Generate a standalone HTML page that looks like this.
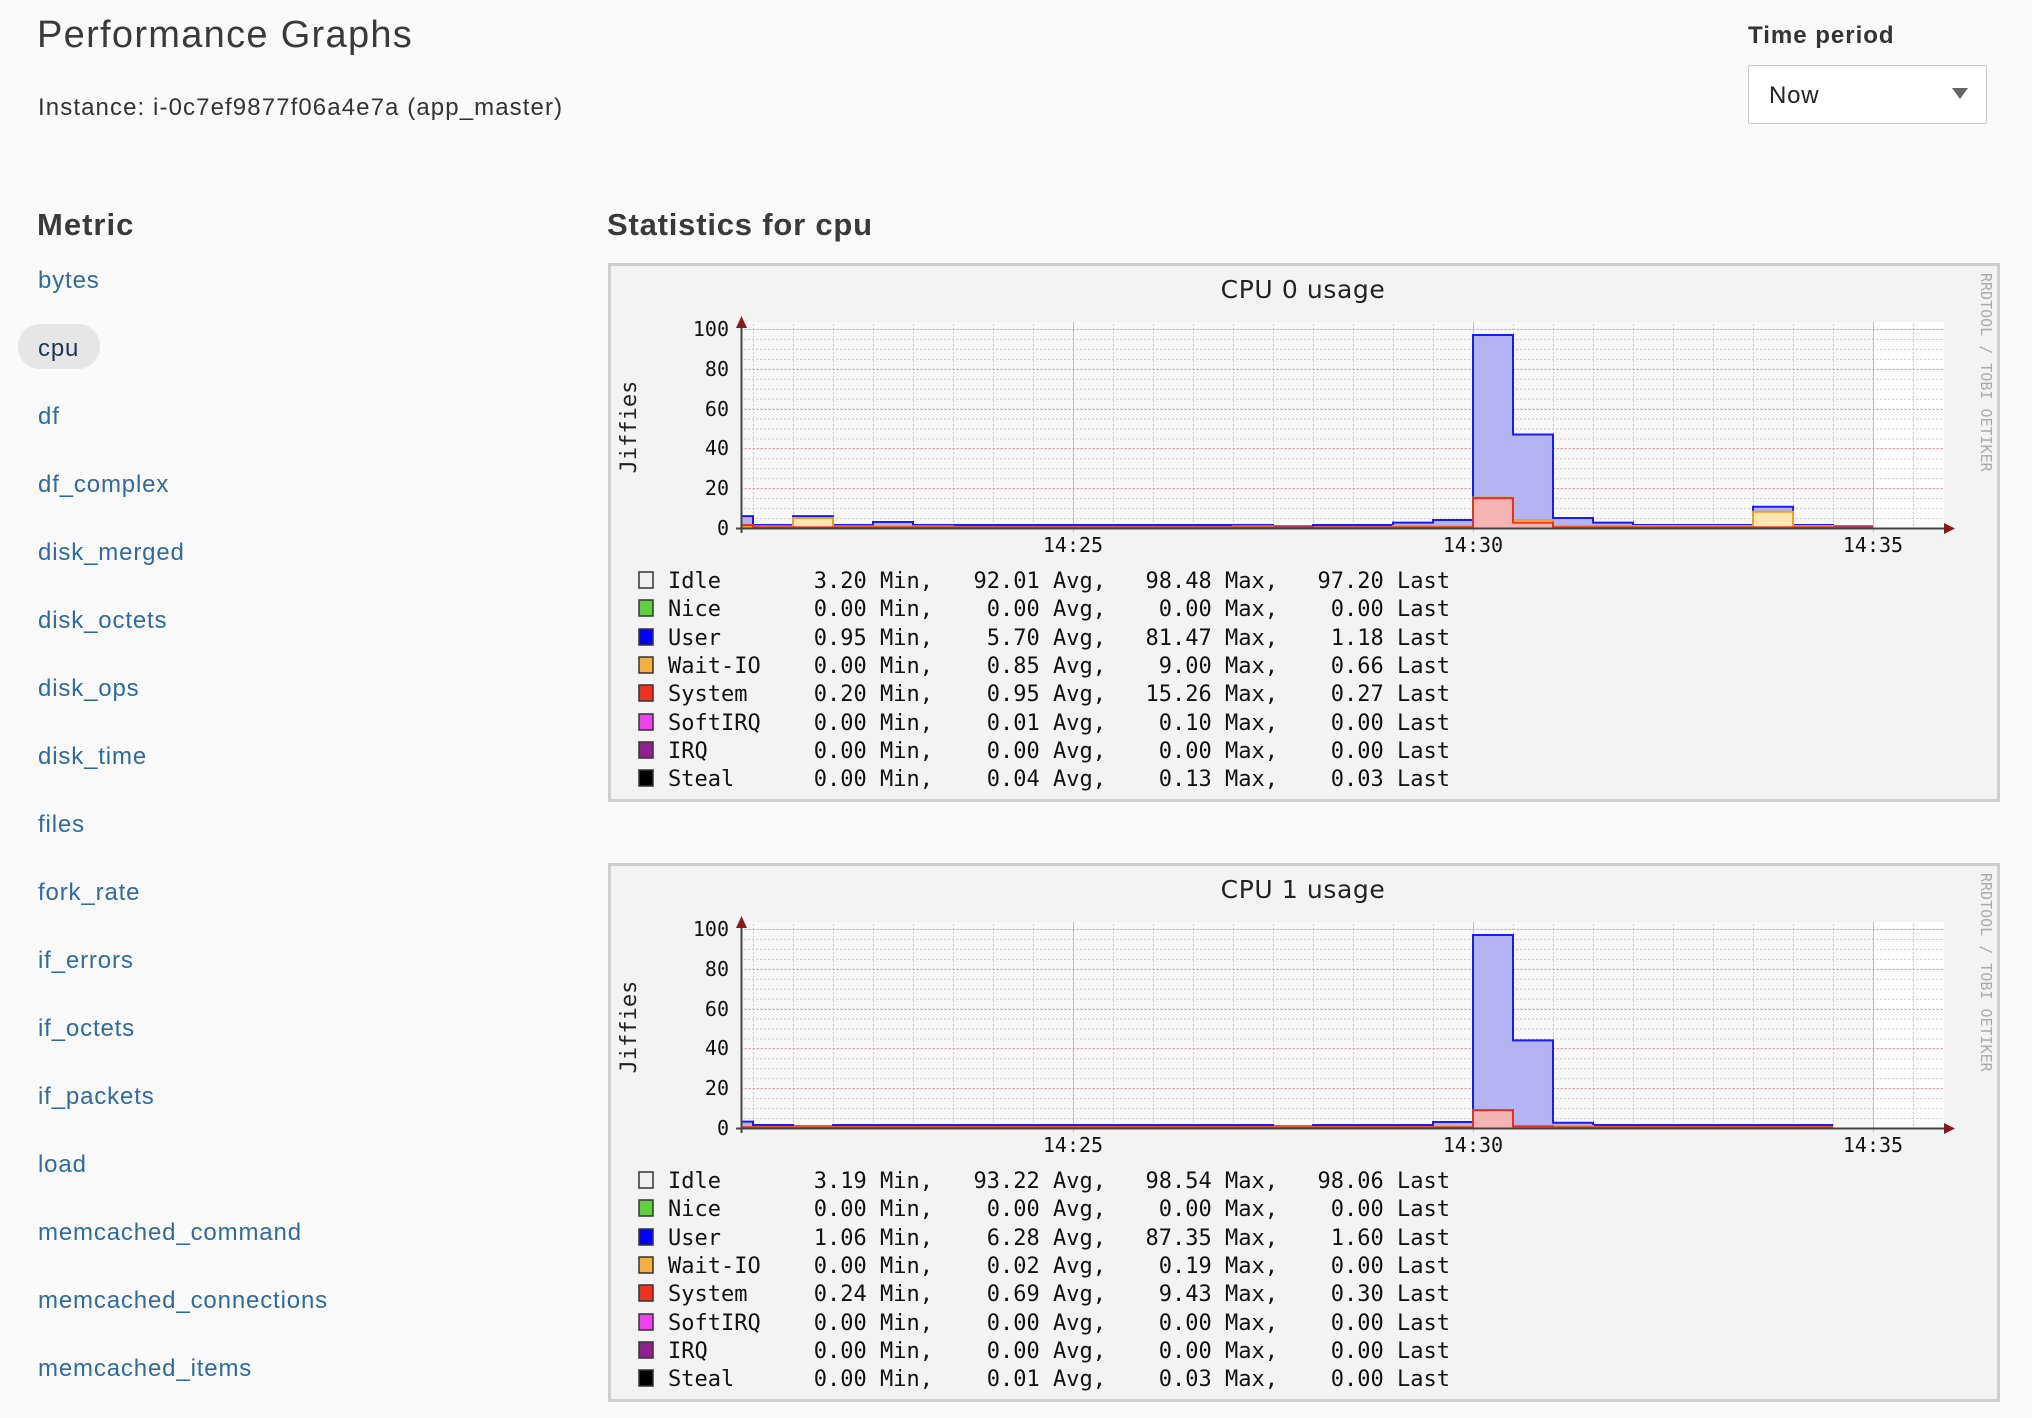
<!DOCTYPE html>
<html><head><meta charset="utf-8">
<style>
html,body{margin:0;padding:0;background:#fafafa;}
body{width:2032px;height:1418px;position:relative;overflow:hidden;font-family:"Liberation Sans",sans-serif;color:#333;}
.a{position:absolute;white-space:nowrap;}
.nav{position:absolute;left:38px;font-size:24px;color:#2f6aa3;line-height:1;letter-spacing:0.85px;}
</style></head><body>
<div class="a" style="left:37px;top:14px;font-size:38px;color:#3a3a3a;letter-spacing:1.3px;">Performance Graphs</div>
<div class="a" style="left:38px;top:94px;font-size:24px;color:#333;letter-spacing:1.1px;">Instance: i-0c7ef9877f06a4e7a (app_master)</div>
<div class="a" style="left:37px;top:207px;font-size:31px;font-weight:bold;color:#3a3a3a;letter-spacing:1px;">Metric</div>
<div class="a" style="left:607px;top:207px;font-size:31px;font-weight:bold;color:#3a3a3a;letter-spacing:0.8px;">Statistics for cpu</div>
<div class="a" style="left:1748px;top:22px;font-size:24px;font-weight:bold;color:#333;letter-spacing:1px;">Time period</div>
<div class="a" style="left:1748px;top:65px;width:237px;height:57px;border:1px solid #c8c8c8;background:#fff;border-radius:2px;"></div>
<div class="a" style="left:1769px;top:82px;font-size:24px;color:#222;letter-spacing:0.8px;">Now</div>
<div class="a" style="left:1952px;top:88px;width:0;height:0;border-left:8px solid transparent;border-right:8px solid transparent;border-top:11px solid #666;"></div>
<div class="a" style="left:18px;top:324px;width:82px;height:45px;border-radius:22px;background:#e6e6e6;"></div>
<div class="nav" style="top:269px;">bytes</div>
<div class="nav" style="top:337px;color:#1d3550;">cpu</div>
<div class="nav" style="top:405px;">df</div>
<div class="nav" style="top:473px;">df_complex</div>
<div class="nav" style="top:541px;">disk_merged</div>
<div class="nav" style="top:609px;">disk_octets</div>
<div class="nav" style="top:677px;">disk_ops</div>
<div class="nav" style="top:745px;">disk_time</div>
<div class="nav" style="top:813px;">files</div>
<div class="nav" style="top:881px;">fork_rate</div>
<div class="nav" style="top:949px;">if_errors</div>
<div class="nav" style="top:1017px;">if_octets</div>
<div class="nav" style="top:1085px;">if_packets</div>
<div class="nav" style="top:1153px;">load</div>
<div class="nav" style="top:1221px;">memcached_command</div>
<div class="nav" style="top:1289px;">memcached_connections</div>
<div class="nav" style="top:1357px;">memcached_items</div>

<svg class="a" style="left:0;top:0" width="2032" height="1418" xmlns="http://www.w3.org/2000/svg">
<defs>
<pattern id="gv" x="753" y="0" width="40" height="4" patternUnits="userSpaceOnUse"><rect x="0" y="0" width="1" height="2" fill="#c8c8c8"/></pattern>
<pattern id="gh" x="0" y="329" width="4" height="9.95" patternUnits="userSpaceOnUse"><rect x="0" y="0" width="2" height="1" fill="#c8c8c8"/></pattern>
<g id="frame">
<rect x="609.5" y="264.5" width="1389" height="536" fill="#f3f3f3" stroke="#cfcfcf" stroke-width="3"/>
<rect x="741" y="322" width="1203" height="206" fill="#ffffff"/>
<rect x="741" y="322" width="1132" height="206" fill="#f8f8f8"/>
<rect x="741" y="324" width="1203" height="204" fill="url(#gv)"/>
<rect x="741" y="329" width="1203" height="199" fill="url(#gh)"/>
<g stroke="#e8a0a0" stroke-width="1" stroke-dasharray="2,2">
<line x1="741" y1="329.5" x2="1944" y2="329.5"/><line x1="741" y1="369.5" x2="1944" y2="369.5"/>
<line x1="741" y1="409.5" x2="1944" y2="409.5"/><line x1="741" y1="448.5" x2="1944" y2="448.5"/>
<line x1="741" y1="488.5" x2="1944" y2="488.5"/>
<line x1="1073.5" y1="322" x2="1073.5" y2="533"/><line x1="1473.5" y1="322" x2="1473.5" y2="533"/><line x1="1873.5" y1="322" x2="1873.5" y2="533"/>
</g>
<g font-family="'DejaVu Sans Mono',monospace" font-size="20" fill="#111" text-anchor="end">
<text x="729" y="336">100</text><text x="729" y="376">80</text><text x="729" y="416">60</text>
<text x="729" y="455">40</text><text x="729" y="495">20</text><text x="729" y="535">0</text>
</g>
<g font-family="'DejaVu Sans Mono',monospace" font-size="20" fill="#111" text-anchor="middle">
<text x="1073" y="552">14:25</text><text x="1473" y="552">14:30</text><text x="1873" y="552">14:35</text>
</g>
<text transform="translate(636,427) rotate(-90)" font-family="'DejaVu Sans Mono',monospace" font-size="22" fill="#222" text-anchor="middle">Jiffies</text>
<text transform="translate(1981,273) rotate(90)" font-family="'DejaVu Sans Mono',monospace" font-size="15" fill="#aaa">RRDTOOL / TOBI OETIKER</text>
</g>
<g id="axes">
<line x1="736" y1="528.5" x2="1946" y2="528.5" stroke="#444" stroke-width="2"/>
<line x1="741.5" y1="533" x2="741.5" y2="322" stroke="#444" stroke-width="2"/>
<polygon points="1944,523 1955,528.5 1944,534" fill="#8b1a1a"/>
<polygon points="736,328 741.5,316 747,328" fill="#8b1a1a"/>
</g>
<g id="boxes" stroke="#333" stroke-width="1.5">
<rect x="639" y="572" width="14" height="16" fill="#f0f0f0"/>
<rect x="639" y="600" width="14" height="16" fill="#60d040"/>
<rect x="639" y="629" width="14" height="16" fill="#0000ff"/>
<rect x="639" y="657" width="14" height="16" fill="#f5b040"/>
<rect x="639" y="685" width="14" height="16" fill="#f03020"/>
<rect x="639" y="714" width="14" height="16" fill="#f040f0"/>
<rect x="639" y="742" width="14" height="16" fill="#902090"/>
<rect x="639" y="770" width="14" height="16" fill="#000000"/>
</g>
</defs>

<!-- CHART 1 -->
<use href="#frame"/>
<text x="1303" y="298" font-family="'DejaVu Sans',sans-serif" font-size="25" letter-spacing="0.6" fill="#222" text-anchor="middle">CPU 0 usage</text>
<path d="M741,528 V516.1 H753 V525 H793 V516.1 H833 V525 H873 V522 H913 V525 H1273 V526.4 H1313 V525 H1393 V522.6 H1433 V520 H1473 V335 H1513 V434.5 H1553 V518 H1593 V522.6 H1633 V525 H1753 V506.7 H1793 V525 H1833 V526.4 H1873 V528 Z" fill="#b4b4f4"/>
<path d="M741,528 V526.4 H793 V518 H833 V526.4 H953 V527.4 H1233 V526.4 H1273 V527.4 H1393 V526 H1473 V497.6 H1513 V520 H1553 V526 H1753 V511.7 H1793 V526 H1833 V527.4 H1873 V528 Z" fill="#fce6b4"/>
<path d="M741,528 V525 H753 V527.4 H1473 V498.1 H1513 V522.6 H1553 V527.4 H1873 V528 Z" fill="#f4b4b4"/>
<path d="M741,516.1 H753 V525 H793 V516.1 H833 V525 H873 V522 H913 V525 H1273 V526.4 H1313 V525 H1393 V522.6 H1433 V520 H1473 V335 H1513 V434.5 H1553 V518 H1593 V522.6 H1633 V525 H1753 V506.7 H1793 V525 H1833 V526.4 H1873" fill="none" stroke="#1a1aff" stroke-width="2"/>
<path d="M741,526.4 H793 V518 H833 V526.4 H953 V527.4 H1233 V526.4 H1273 V527.4 H1393 V526 H1473 V497.6 H1513 V520 H1553 V526 H1753 V511.7 H1793 V526 H1833 V527.4 H1873" fill="none" stroke="#f0a020" stroke-width="2"/>
<path d="M741,525 H753 V527.4 H1473 V498.1 H1513 V522.6 H1553 V527.4 H1873" fill="none" stroke="#e83020" stroke-width="2"/>
<use href="#axes"/>
<use href="#boxes"/>
<g font-family="'DejaVu Sans Mono',monospace" font-size="22" fill="#111">
<text x="668" y="588">Idle</text><text x="668" y="616">Nice</text><text x="668" y="645">User</text><text x="668" y="673">Wait-IO</text>
<text x="668" y="701">System</text><text x="668" y="730">SoftIRQ</text><text x="668" y="758">IRQ</text><text x="668" y="786">Steal</text>
<g text-anchor="end">
<text x="933" y="588">3.20 Min,</text><text x="1106" y="588">92.01 Avg,</text><text x="1278" y="588">98.48 Max,</text><text x="1450" y="588">97.20 Last</text>
<text x="933" y="616">0.00 Min,</text><text x="1106" y="616">0.00 Avg,</text><text x="1278" y="616">0.00 Max,</text><text x="1450" y="616">0.00 Last</text>
<text x="933" y="645">0.95 Min,</text><text x="1106" y="645">5.70 Avg,</text><text x="1278" y="645">81.47 Max,</text><text x="1450" y="645">1.18 Last</text>
<text x="933" y="673">0.00 Min,</text><text x="1106" y="673">0.85 Avg,</text><text x="1278" y="673">9.00 Max,</text><text x="1450" y="673">0.66 Last</text>
<text x="933" y="701">0.20 Min,</text><text x="1106" y="701">0.95 Avg,</text><text x="1278" y="701">15.26 Max,</text><text x="1450" y="701">0.27 Last</text>
<text x="933" y="730">0.00 Min,</text><text x="1106" y="730">0.01 Avg,</text><text x="1278" y="730">0.10 Max,</text><text x="1450" y="730">0.00 Last</text>
<text x="933" y="758">0.00 Min,</text><text x="1106" y="758">0.00 Avg,</text><text x="1278" y="758">0.00 Max,</text><text x="1450" y="758">0.00 Last</text>
<text x="933" y="786">0.00 Min,</text><text x="1106" y="786">0.04 Avg,</text><text x="1278" y="786">0.13 Max,</text><text x="1450" y="786">0.03 Last</text>
</g></g>

<!-- CHART 2 -->
<g transform="translate(0,600)">
<use href="#frame"/>
<text x="1303" y="298" font-family="'DejaVu Sans',sans-serif" font-size="25" letter-spacing="0.6" fill="#222" text-anchor="middle">CPU 1 usage</text>
<path d="M741,528 V521.6 H753 V525 H793 V526.4 H833 V525 H1273 V526.4 H1313 V525 H1433 V522 H1473 V335 H1513 V440.4 H1553 V522.8 H1593 V525 H1833 V528 Z" fill="#b4b4f4"/>
<path d="M741,528 V527 H1473 V510 H1513 V526 H1593 V527 H1833 V528 Z" fill="#fce6b4"/>
<path d="M741,528 V527.4 H1473 V510.1 H1513 V526.4 H1553 V527.4 H1833 V528 Z" fill="#f4b4b4"/>
<path d="M741,521.6 H753 V525 H793 V526.4 H833 V525 H1273 V526.4 H1313 V525 H1433 V522 H1473 V335 H1513 V440.4 H1553 V522.8 H1593 V525 H1833" fill="none" stroke="#1a1aff" stroke-width="2"/>
<path d="M741,527 H1473 V510 H1513 V526 H1593 V527 H1833" fill="none" stroke="#f0a020" stroke-width="2"/>
<path d="M741,527.4 H1473 V510.1 H1513 V526.4 H1553 V527.4 H1833" fill="none" stroke="#e83020" stroke-width="2"/>
<use href="#axes"/>
<use href="#boxes"/>
<g font-family="'DejaVu Sans Mono',monospace" font-size="22" fill="#111">
<text x="668" y="588">Idle</text><text x="668" y="616">Nice</text><text x="668" y="645">User</text><text x="668" y="673">Wait-IO</text>
<text x="668" y="701">System</text><text x="668" y="730">SoftIRQ</text><text x="668" y="758">IRQ</text><text x="668" y="786">Steal</text>
<g text-anchor="end">
<text x="933" y="588">3.19 Min,</text><text x="1106" y="588">93.22 Avg,</text><text x="1278" y="588">98.54 Max,</text><text x="1450" y="588">98.06 Last</text>
<text x="933" y="616">0.00 Min,</text><text x="1106" y="616">0.00 Avg,</text><text x="1278" y="616">0.00 Max,</text><text x="1450" y="616">0.00 Last</text>
<text x="933" y="645">1.06 Min,</text><text x="1106" y="645">6.28 Avg,</text><text x="1278" y="645">87.35 Max,</text><text x="1450" y="645">1.60 Last</text>
<text x="933" y="673">0.00 Min,</text><text x="1106" y="673">0.02 Avg,</text><text x="1278" y="673">0.19 Max,</text><text x="1450" y="673">0.00 Last</text>
<text x="933" y="701">0.24 Min,</text><text x="1106" y="701">0.69 Avg,</text><text x="1278" y="701">9.43 Max,</text><text x="1450" y="701">0.30 Last</text>
<text x="933" y="730">0.00 Min,</text><text x="1106" y="730">0.00 Avg,</text><text x="1278" y="730">0.00 Max,</text><text x="1450" y="730">0.00 Last</text>
<text x="933" y="758">0.00 Min,</text><text x="1106" y="758">0.00 Avg,</text><text x="1278" y="758">0.00 Max,</text><text x="1450" y="758">0.00 Last</text>
<text x="933" y="786">0.00 Min,</text><text x="1106" y="786">0.01 Avg,</text><text x="1278" y="786">0.03 Max,</text><text x="1450" y="786">0.00 Last</text>
</g></g>
</g>
</svg>
</body></html>
